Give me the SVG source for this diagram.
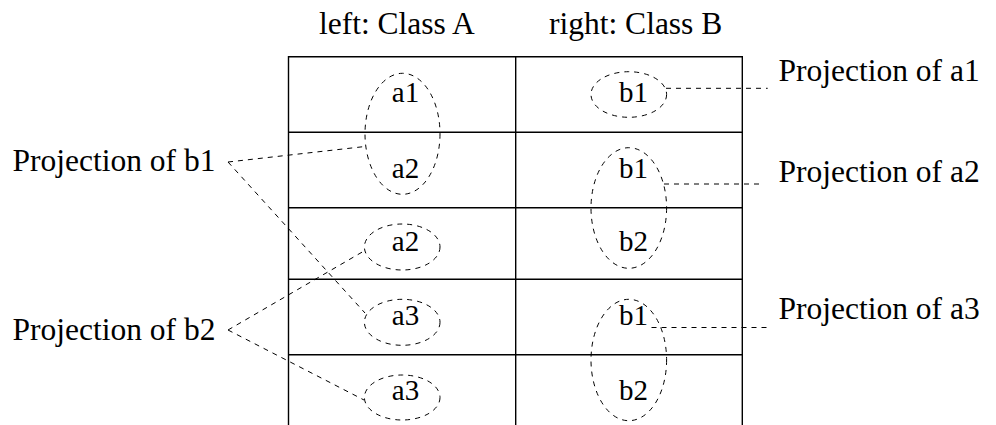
<svg xmlns="http://www.w3.org/2000/svg" width="996" height="425" viewBox="0 0 996 425">
<style>
text{font-family:"Liberation Serif","Times New Roman",Times,serif;fill:#000}
.lbl{font-size:31.5px}
.cell{font-size:29px;text-anchor:middle}
.grid{stroke:#000;stroke-width:1.4;fill:none}
.dash{stroke:#000;stroke-width:1;fill:none;stroke-dasharray:5 5}
</style>
<rect width="996" height="425" fill="#fff"/>
<g id="headers">
<text class="lbl" x="319" y="34">left: Class A</text>
<text class="lbl" x="549" y="34">right: Class B</text>
</g>
<g id="table">
<path class="grid" d="M288.5 425V56.7H742.3V425M515.7 56.7V425M288.5 132.3H742.3M288.5 207.7H742.3M288.5 279.3H742.3M288.5 354.7H742.3"/>
</g>
<g id="cells">
<text class="cell" x="405.5" y="101.8">a1</text>
<text class="cell" x="633.5" y="101.8">b1</text>
<text class="cell" x="405.5" y="177.5">a2</text>
<text class="cell" x="633.5" y="177.5">b1</text>
<text class="cell" x="405.5" y="251">a2</text>
<text class="cell" x="633.5" y="251">b2</text>
<text class="cell" x="405.5" y="325">a3</text>
<text class="cell" x="633.5" y="325">b1</text>
<text class="cell" x="405.5" y="400">a3</text>
<text class="cell" x="633.5" y="400">b2</text>
</g>
<g id="groups">
<ellipse class="dash" cx="402.5" cy="133.8" rx="37.5" ry="60.5"/>
<ellipse class="dash" cx="628.8" cy="94.5" rx="37.8" ry="22.8"/>
<ellipse class="dash" cx="628.8" cy="208" rx="37.8" ry="60.3"/>
<ellipse class="dash" cx="402.2" cy="247" rx="37.8" ry="23"/>
<ellipse class="dash" cx="402.2" cy="322.3" rx="37.8" ry="23"/>
<ellipse class="dash" cx="402.2" cy="397.5" rx="37.8" ry="22.5"/>
<ellipse class="dash" cx="628.8" cy="360" rx="37.8" ry="60.7"/>
</g>
<g id="proj-b1"><text class="lbl" x="12.5" y="170.8">Projection of b1</text></g>
<g id="proj-b2"><text class="lbl" x="12.5" y="339.5">Projection of b2</text></g>
<g id="proj-a1"><text class="lbl" x="778.5" y="81.2">Projection of a1</text></g>
<g id="proj-a2"><text class="lbl" x="778.5" y="181.6">Projection of a2</text></g>
<g id="proj-a3"><text class="lbl" x="778.5" y="319.4">Projection of a3</text></g>
<g id="connectors">
<path class="dash" d="M228 162L365 146.5"/>
<path class="dash" d="M228 162L365 313"/>
<path class="dash" d="M228 330L364 251"/>
<path class="dash" d="M228 330L364 400"/>
<path class="dash" d="M666 88.3H767.7"/>
<path class="dash" d="M664 184H763.3"/>
<path class="dash" d="M651.5 327.5H767.7"/>
</g>
</svg>
